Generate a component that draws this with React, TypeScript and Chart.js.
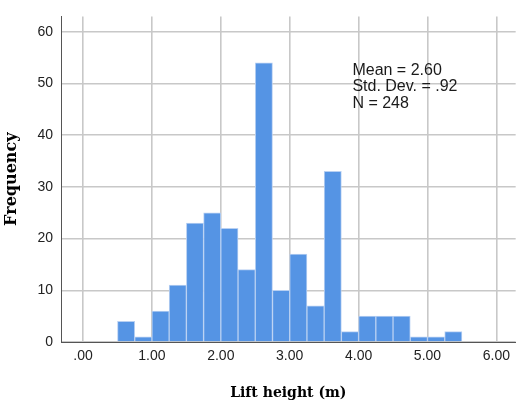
import React, { useEffect, useRef } from "react";
import { Chart, registerables } from "chart.js";

Chart.register(...registerables);

const binWidth = 0.25;
const binStarts = [0.5, 0.75, 1.0, 1.25, 1.5, 1.75, 2.0, 2.25, 2.5, 2.75, 3.0, 3.25, 3.5, 3.75, 4.0, 4.25, 4.5, 4.75, 5.0, 5.25];
const frequencies = [4, 1, 6, 11, 23, 25, 22, 14, 54, 10, 17, 7, 33, 2, 5, 5, 5, 1, 1, 2];
const xTickValues = [0, 1, 2, 3, 4, 5, 6];
const xTickLabels = [".00", "1.00", "2.00", "3.00", "4.00", "5.00", "6.00"];
const yTickValues = [0, 10, 20, 30, 40, 50, 60];
const statsLines = ["Mean = 2.60", "Std. Dev. = .92", "N = 248"];
const xTitle = "Lift height (m)";
const yTitle = "Frequency";

const statsPlugin = {
  id: "stats",
  afterDraw(chart: any) {
    const { ctx, scales } = chart;
    const x = scales.x.getPixelForValue(3.91);
    const y0 = scales.y.getPixelForValue(51.7);
    ctx.save();
    ctx.font = '16px "Liberation Sans", Arial, sans-serif';
    ctx.fillStyle = "#1a1a1a";
    ctx.textBaseline = "alphabetic";
    ctx.textAlign = "left";
    statsLines.forEach((t, i) => ctx.fillText(t, x, y0 + i * 16.5));
    ctx.restore();
  },
};

export default function App() {
  const ref = useRef<HTMLCanvasElement | null>(null);
  useEffect(() => {
    if (!ref.current) return;
    const chart = new Chart(ref.current, {
      type: "bar",
      data: {
        datasets: [
          {
            data: binStarts.map((s, i) => ({ x: s + binWidth / 2, y: frequencies[i] })),
            backgroundColor: "#5594e4",
            borderColor: "#b8d0f2",
            borderWidth: 1,
            barPercentage: 1,
            categoryPercentage: 1,
          },
        ],
      },
      options: {
        animation: false,
        responsive: false,
        maintainAspectRatio: false,
        layout: { padding: { top: 3, left: 0, right: 0, bottom: 0 } },
        plugins: { legend: { display: false }, tooltip: { enabled: false } },
        scales: {
          x: {
            type: "linear",
            min: -0.32,
            max: 6.28,
            offset: false,
            afterFit: (s: any) => { s.height = 64; },
            afterBuildTicks: (s: any) => { s.ticks = xTickValues.map((v) => ({ value: v })); },
            ticks: {
              callback: (v: any) => xTickLabels[xTickValues.indexOf(Number(v))] ?? "",
              font: { family: '"Liberation Sans", Arial, sans-serif', size: 14 },
              color: "#222",
              padding: 6,
              maxRotation: 0,
              autoSkip: false,
            },
            grid: { color: "#c8c8c8", lineWidth: 1.6, drawTicks: false, offset: false },
            border: { display: true, color: "#555", width: 1 },
            title: {
              display: true,
              text: xTitle,
              font: { family: '"DejaVu Serif", serif', size: 14, weight: "bold" },
              color: "#000",
              padding: { top: 0, bottom: 4.6 },
            },
          },
          y: {
            type: "linear",
            min: 0,
            max: 63,
            afterFit: (s: any) => { s.width = 61; },
            afterBuildTicks: (s: any) => { s.ticks = yTickValues.map((v) => ({ value: v })); },
            ticks: {
              font: { family: '"Liberation Sans", Arial, sans-serif', size: 14 },
              color: "#222",
              padding: 8,
            },
            grid: { color: "#c8c8c8", lineWidth: 1.6, drawTicks: false },
            border: { display: true, color: "#555", width: 1 },
            title: {
              display: true,
              text: yTitle,
              font: { family: '"DejaVu Serif", serif', size: 16, weight: "bold" },
              color: "#000",
              padding: { top: 2.5, bottom: 0 },
            },
          },
        },
      },
      plugins: [statsPlugin],
    } as any);
    return () => chart.destroy();
  }, []);
  return (
    <div style={{ position: "fixed", left: 0, top: 0, width: 516, height: 406, background: "#fff" }}>
      <canvas ref={ref} width={516} height={406} style={{ width: 516, height: 406, display: "block" }} />
    </div>
  );
}
